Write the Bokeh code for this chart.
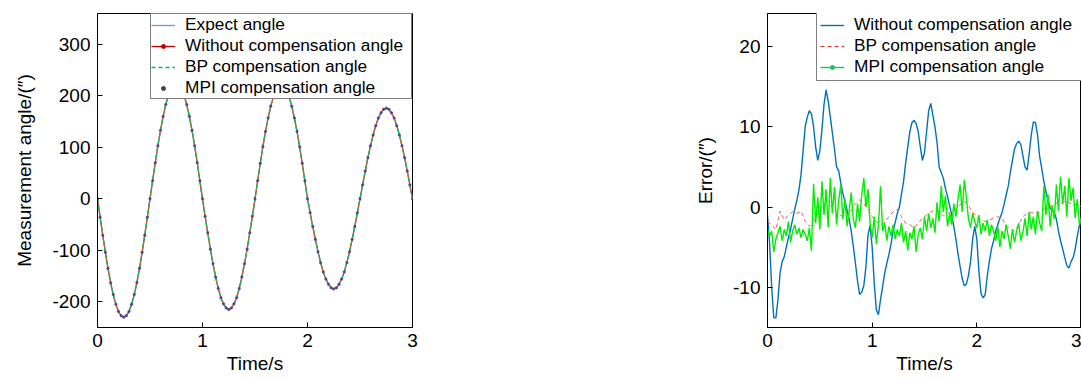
import numpy as np
from bokeh.plotting import figure
from bokeh.layouts import row
from bokeh.models import Legend, LegendItem, Label, Range1d, FixedTicker, Spacer
from bokeh.embed import file_html
from bokeh.resources import INLINE

FONT = "Liberation Sans"

# ---------------- (a) measurement angle ----------------
angle_step = 0.025
expect_angle = [
    0, -36, -71, -104, -135, -163, -186, -205, -219, -227, -230, -227, -219, -205, -186, -163, -135, -104, -71, -36,
    0, 35, 70, 103, 133, 160, 183, 201, 215, 223, 226, 223, 215, 201, 183, 160, 133, 103, 70, 35,
    0, -34, -66, -98, -126, -152, -174, -192, -204, -212, -215, -212, -204, -192, -174, -152, -126, -98, -66, -34,
    0, 35, 69, 101, 131, 157, 180, 198, 211, 219, 222, 219, 211, 198, 180, 157, 131, 101, 69, 35,
    0, -27, -54, -79, -103, -124, -142, -156, -166, -173, -175, -173, -166, -156, -142, -124, -103, -79, -54, -27,
    0, 27, 54, 80, 103, 124, 142, 157, 167, 174, 176, 174, 167, 157, 142, 124, 103, 80, 54, 27,
    0,
]
# measured curves coincide with the expected one at this scale
without_angle = list(expect_angle)
bp_angle = list(expect_angle)
mpi_angle = list(expect_angle)
time_a = [round(i * angle_step, 4) for i in range(len(expect_angle))]

# ---------------- (b) error ----------------
err_step = 0.02
err_without = [
    -1.0, -4.5, -10.0, -13.8, -13.8, -11.5, -8.2, -6.8, -6.2, -5.0,
    -3.8, -2.8, -1.5, -0.3, 0.8, 2.1, 4.0, 7.0, 10.0, 11.2,
    12.0, 11.6, 10.0, 7.5, 5.8, 7.0, 9.6, 12.8, 14.6, 13.2,
    11.2, 9.2, 7.2, 5.0, 4.5, 3.0, 1.7, 0.7, -0.4, -1.5,
    -3.0, -4.9, -7.0, -9.2, -10.9, -10.6, -9.8, -7.5, -3.5, -2.3,
    -5.0, -9.5, -12.8, -13.4, -11.5, -9.9, -8.2, -7.0, -5.9, -4.6,
    -3.0, -1.9, -0.8, 0.0, 1.6, 3.2, 5.5, 7.5, 9.4, 10.5,
    10.8, 10.4, 9.4, 7.5, 5.8, 6.8, 9.4, 12.0, 12.9, 11.4,
    10.0, 8.0, 5.0, 4.3, 3.6, 2.3, 1.3, 0.2, -1.0, -2.4,
    -4.0, -5.8, -7.4, -8.9, -9.8, -9.6, -8.5, -6.8, -4.0, -2.4,
    -4.0, -8.0, -10.8, -11.3, -10.9, -8.5, -6.7, -5.2, -4.2, -3.0,
    -2.2, -1.4, -0.7, 0.3, 1.5, 2.6, 4.3, 5.8, 7.2, 7.9,
    8.2, 7.8, 6.4, 5.0, 4.6, 6.6, 9.0, 10.6, 10.5, 9.0,
    6.3, 4.8, 3.2, 1.9, 0.8, -0.1, -0.4, -0.7, -1.5, -3.0,
    -4.2, -5.2, -6.3, -7.3, -7.6, -6.8, -6.3, -5.2, -3.6, -2.3,
    -1.5,
]
err_mpi = [
    -2.8, -3.6, -3.0, -5.6, -4.0, -3.2, -2.4, -4.2, -2.8, -3.6,
    -1.8, -4.4, -3.0, -2.2, -3.4, -2.6, -3.8, -2.8, -3.4, -4.2,
    -2.6, -5.5, 2.9, -2.0, 1.2, -2.8, 3.2, -1.0, 2.2, -2.5,
    3.6, -0.8, 2.5, -2.2, 0.8, 2.8, -1.5, 1.0, -2.4, -0.5,
    1.8, -1.5, -2.6, 0.4, -1.8, 1.5, 3.6, 0.0, 2.2, -2.0,
    -3.8, -1.2, -4.6, -2.2, 2.6, -3.0, -2.0, -4.2, -2.4, -3.6,
    -2.2, -4.0, -2.8, -3.6, -2.0, -4.4, -3.0, -5.4, -3.2, -4.0,
    -2.4, -5.6, -3.4, -2.6, -4.0, -1.2, -3.0, -0.8, -2.6, -1.4,
    -3.2, 0.6, -1.8, 2.6, -0.6, 1.4, -2.4, -0.8, -2.2, 0.4,
    -1.2, 1.0, 2.8, -0.6, 3.4, 1.2, -1.5, -2.6, -0.8, -1.8,
    -2.6, -1.0, -3.4, -2.0, -3.0, -1.6, -3.6, -2.2, -3.0, -4.2,
    -2.4, -5.0, -3.0, -4.0, -2.2, -3.6, -5.2, -2.8, -4.4, -3.0,
    -2.0, -4.2, -3.2, -1.4, -3.6, -0.6, -2.8, -1.2, -3.4, -0.5,
    -2.0, -3.0, 2.6, -1.0, 1.6, -2.4, 0.2, -1.5, 2.8, -0.5,
    3.8, 0.4, 2.6, -1.2, 3.6, 0.8, 2.4, -1.4, 1.0, -2.2,
    -1.2,
]
bp_step = 0.04
err_bp = [
    -1.8, -2.2, -2.8, -0.5, -1.6, -1.0, -0.6, -0.8, -0.5, -1.8,
    -2.4, -1.8, -0.8, 0.0, 0.5, 0.2, -0.4, -0.9, -1.2, -1.2,
    -0.4, 0.4, 0.9, 0.4, -0.2, -1.2, -1.8, -2.2, -1.9, -1.2,
    -0.6, -0.3, -1.2, -2.0, -2.2, -2.6, -2.0, -1.4, -1.0, -0.6,
    -0.3, -0.7, -1.1, -0.8, -0.5, -0.3, 0.3, 0.7, 0.2, -0.7,
    -1.2, -1.6, -1.8, -1.6, -1.4, -1.2, -1.4, -2.4, -2.6, -3.0,
    -2.2, -1.2, -0.8, -0.7, -0.8, -0.7, -0.3, -0.1, 0.2, 0.5,
    0.4, 0.7, 0.6, 0.2, 0.4, 0.0,
]
time_err = [round(i * err_step, 4) for i in range(len(err_without))]
time_mpi = [round(i * err_step, 4) for i in range(len(err_mpi))]
time_bp = [round(i * bp_step, 4) for i in range(len(err_bp))]

x_ticks = [0, 1, 2, 3]
y_ticks_a = [-200, -100, 0, 100, 200, 300]
y_ticks_b = [-10, 0, 10, 20]

NO_DATA = [np.nan]  # legend-only proxies (nothing drawn in the plot area)


def style(p, xt, yt):
    p.xaxis.ticker = FixedTicker(ticks=xt)
    p.yaxis.ticker = FixedTicker(ticks=yt)
    p.xaxis.major_label_overrides = {t: str(t) for t in xt}
    p.yaxis.major_label_overrides = {t: str(t) for t in yt}
    for ax in list(p.xaxis) + list(p.yaxis):
        ax.major_tick_in = 5
        ax.major_tick_out = 0
        ax.minor_tick_in = 0
        ax.minor_tick_out = 0
        ax.axis_line_color = "black"
        ax.major_tick_line_color = "black"
        ax.major_label_text_font = FONT
        ax.major_label_text_font_size = "19px"
        ax.major_label_text_color = "black"
        ax.axis_label_text_font = FONT
        ax.axis_label_text_font_size = "19px"
        ax.axis_label_text_font_style = "normal"
        ax.axis_label_text_color = "black"
    p.xaxis.major_label_standoff = 6
    p.xaxis.axis_label_standoff = 3
    p.yaxis.major_label_standoff = 7
    p.yaxis.axis_label_standoff = 14
    p.grid.visible = False
    p.outline_line_color = "black"
    p.outline_line_width = 1
    p.background_fill_color = "white"
    p.border_fill_color = "white"


def style_legend(lg, lh, pad):
    lg.margin = 0
    lg.padding = pad
    lg.spacing = 0
    lg.border_line_color = "black"
    lg.border_line_width = 1
    lg.background_fill_alpha = 1
    lg.label_text_font = FONT
    lg.label_text_font_size = "17.3px"
    lg.label_text_color = "black"
    lg.glyph_width = 24
    lg.glyph_height = 10
    lg.label_height = lh
    lg.label_standoff = 10


# ---------------- figure (a) ----------------
pa = figure(width=440, height=379, x_range=Range1d(0, 3), y_range=Range1d(-250, 360),
            output_backend="svg", toolbar_location=None,
            min_border_left=97, min_border_right=28, min_border_top=13, min_border_bottom=52)
pa.xaxis.axis_label = "Time/s"
pa.yaxis.axis_label = "Measurement angle/(″)"
style(pa, x_ticks, y_ticks_a)

r_exp = pa.line(time_a, expect_angle, line_color="#6a9ad8", line_width=1.3)
r_wo = pa.line(time_a, without_angle, line_color="#e0501e", line_width=1.3)
r_wo_leg = pa.line(NO_DATA, NO_DATA, line_color="#c00000", line_width=1.3)
r_wo_dot = pa.scatter(NO_DATA, NO_DATA, marker="circle", size=4, fill_color="#c00000", line_color="#c00000")
r_bp = pa.line(time_a, bp_angle, line_color="#00c060", line_width=1.3, line_dash="4 3")
r_mpi = pa.scatter(time_a, mpi_angle, marker="circle", size=2.5, fill_color="#5a3f8c",
                   line_color="#5a3f8c", line_width=0.5)
r_mpi_leg = pa.scatter(NO_DATA, NO_DATA, marker="circle", size=4, fill_color="#404060", line_color="#404060")

leg_a = Legend(items=[
    LegendItem(label="Expect angle", renderers=[r_exp]),
    LegendItem(label="Without compensation angle", renderers=[r_wo_leg, r_wo_dot]),
    LegendItem(label="BP compensation angle", renderers=[r_bp]),
    LegendItem(label="MPI compensation angle", renderers=[r_mpi_leg]),
], location="top_right")
style_legend(leg_a, 20, 0)
leg_a.label_width = 226
pa.add_layout(leg_a)

pa.add_layout(Label(x=-89, y=304, x_units="screen", y_units="screen", text="(a)",
                    text_font=FONT, text_font_size="18px", text_baseline="middle", text_color="black"))

# ---------------- figure (b) ----------------
pb = figure(width=391, height=379, x_range=Range1d(0, 3), y_range=Range1d(-15, 24.1),
            output_backend="svg", toolbar_location=None,
            min_border_left=77, min_border_right=0, min_border_top=13, min_border_bottom=51)
pb.xaxis.axis_label = "Time/s"
pb.yaxis.axis_label = "Error/(″)"
style(pb, x_ticks, y_ticks_b)

r_b_wo = pb.line(time_err, err_without, line_color="#0072BD", line_width=1.4)
r_b_bp = pb.line(time_bp, err_bp, line_color="#ff5a5a", line_width=1, line_dash="4 3")
r_b_mpi = pb.line(time_mpi, err_mpi, line_color="#00ee00", line_width=1.4)
r_b_bp_leg = pb.line(NO_DATA, NO_DATA, line_color="#e83030", line_width=1.2, line_dash="4 3")
r_b_mpi_leg = pb.line(NO_DATA, NO_DATA, line_color="#20c060", line_width=1.4)
r_b_mpi_dot = pb.scatter(NO_DATA, NO_DATA, marker="circle", size=4, fill_color="#20c060", line_color="#20c060")

leg_b = Legend(items=[
    LegendItem(label="Without compensation angle", renderers=[r_b_wo]),
    LegendItem(label="BP compensation angle", renderers=[r_b_bp_leg]),
    LegendItem(label="MPI compensation angle", renderers=[r_b_mpi_leg, r_b_mpi_dot]),
], location=(49, 246))
style_legend(leg_b, 21, 3)
leg_b.label_width = 240
pb.add_layout(leg_b)

pb.add_layout(Label(x=-77, y=304, x_units="screen", y_units="screen", text="(b)",
                    text_font=FONT, text_font_size="18px", text_baseline="middle", text_color="black"))

layout = row(pa, Spacer(width=250, height=379), pb)
open("out.html", "w").write(file_html(layout, INLINE))
